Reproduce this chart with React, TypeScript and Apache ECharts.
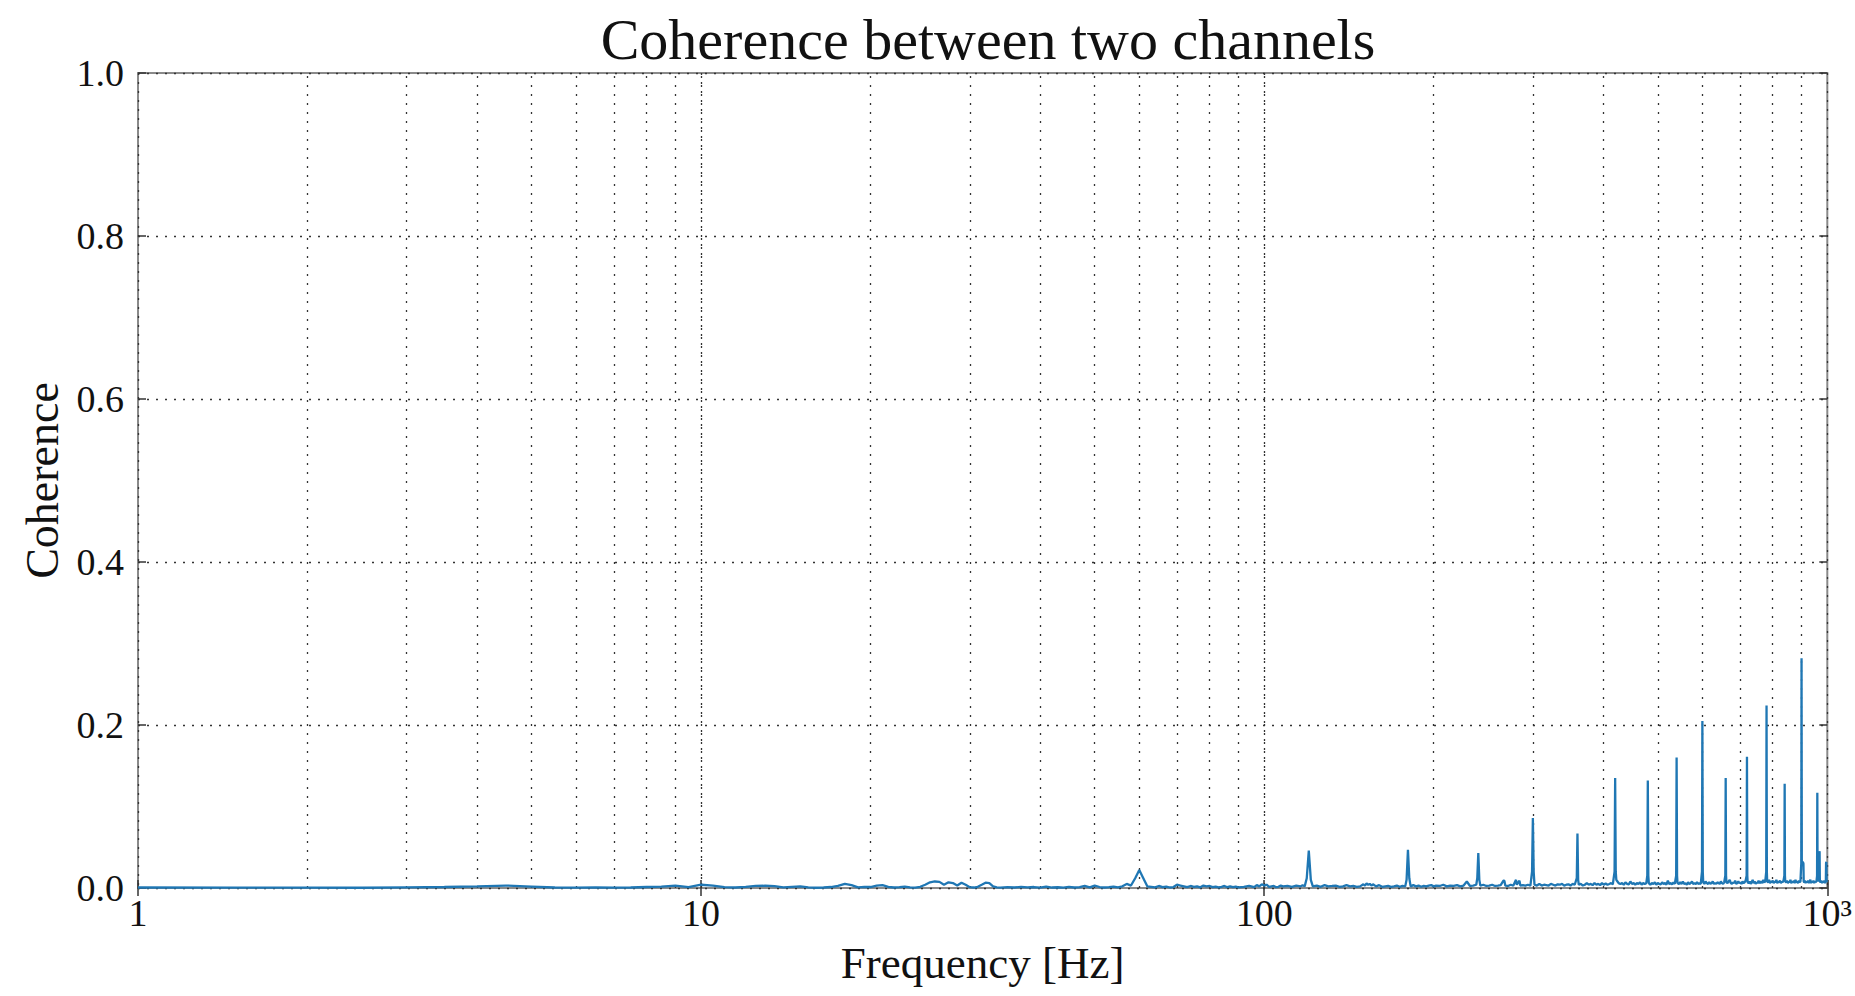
import React, { useEffect, useRef } from "react";
import * as echarts from "echarts";

// ---- data (frequency in Hz, coherence) ----
const lowBand: [number, number][] = [
  [1, 0.0006], [1.5, 0.0005], [2, 0.0004], [2.5, 0.0003], [3, 0.0008], [3.5, 0.0012],
  [4, 0.002], [4.5, 0.003], [5, 0.0018], [5.5, 0.0006], [6, 0.0004], [6.5, 0.0008],
  [7, 0.0005], [7.5, 0.0006], [8, 0.0012], [8.5, 0.0018], [9, 0.0028], [9.5, 0.0012],
  [10, 0.004], [10.5, 0.003], [11, 0.001], [11.5, 0.0006], [12, 0.0015], [12.5, 0.0025],
  [13, 0.0028], [13.5, 0.0022], [14, 0.0008], [14.5, 0.0015], [15, 0.002], [15.5, 0.0008],
  [16, 0.0003], [16.5, 0.0006], [17, 0.0012], [17.5, 0.0025], [18, 0.005], [18.5, 0.0035],
  [19, 0.0008], [19.5, 0.0015], [20, 0.0012], [20.5, 0.003], [21, 0.0035], [21.5, 0.0015],
  [22, 0.0006], [22.5, 0.0012], [23, 0.0018], [23.5, 0.0008], [24, 0.0004], [24.5, 0.0015],
  [25, 0.004], [25.5, 0.007], [26, 0.008], [26.5, 0.0075], [27, 0.004], [27.5, 0.007],
  [28, 0.006], [28.5, 0.003], [29, 0.0065], [29.5, 0.004], [30, 0.001], [30.5, 0.0006],
  [31, 0.0015], [31.5, 0.004], [32, 0.0065], [32.5, 0.006], [33, 0.002], [33.5, 0.0008],
  [34, 0.0004], [35, 0.001], [36, 0.0006], [37, 0.0015], [38, 0.0008], [39, 0.0012],
  [40, 0.0005], [41, 0.0018], [42, 0.0006], [43, 0.0009], [44, 0.0004], [45, 0.0015],
  [46, 0.0006], [47, 0.0012], [48, 0.0025], [49, 0.0008],
];

const midBand: [number, number][] = [
  [50, 0.003], [51, 0.0012], [52, 0.0006], [53, 0.001], [54, 0.0018], [55, 0.0008],
  [56, 0.002], [57, 0.005], [58, 0.003], [59, 0.012], [60, 0.022], [61, 0.012],
  [62, 0.002], [63, 0.0015], [64, 0.0008], [65, 0.0025], [66, 0.001], [67, 0.0018],
  [68, 0.0006], [69, 0.0012], [70, 0.004], [71, 0.003], [72, 0.002], [73, 0.001],
  [74, 0.0025], [75, 0.0015], [76, 0.002], [77, 0.0008], [78, 0.003], [79, 0.002],
  [80, 0.0025], [81, 0.001], [82, 0.0018], [83, 0.0009], [84, 0.0015], [85, 0.0025],
  [86, 0.001], [87, 0.002], [88, 0.0012], [89, 0.0018], [90, 0.0008], [92, 0.0015],
  [94, 0.0025], [96, 0.001], [97, 0.0035], [98, 0.002], [99, 0.0045], [100, 0.003],
  [101, 0.004], [102, 0.0015], [103, 0.002], [104, 0.0025], [105, 0.001], [106, 0.0015],
  [107, 0.003], [108, 0.002], [110, 0.0025], [112, 0.0015], [114, 0.003], [116, 0.002],
  [117, 0.0035], [118, 0.002], [119, 0.012], [120, 0.046], [121, 0.01], [122, 0.002],
  [124, 0.003], [126, 0.0015], [128, 0.0035], [130, 0.002], [132, 0.0025], [134, 0.003],
  [136, 0.0015], [138, 0.002], [140, 0.0035], [142, 0.002], [144, 0.0025], [146, 0.0015],
  [148, 0.002], [150, 0.0045], [151, 0.003], [152, 0.0055], [153, 0.004], [154, 0.005],
  [155, 0.003], [156, 0.0045], [158, 0.002], [160, 0.0035], [162, 0.0015], [164, 0.002],
  [166, 0.0025], [168, 0.0015], [170, 0.002], [172, 0.003], [174, 0.0015], [176, 0.0025],
  [178, 0.002], [179, 0.01], [180, 0.047], [181, 0.012], [182, 0.002], [184, 0.0035],
  [186, 0.002], [188, 0.003], [190, 0.0015], [192, 0.0025], [194, 0.002], [196, 0.003],
  [198, 0.0035],
];

const highBand: [number, number][] = [
  [200, 0.002], [202, 0.003], [205, 0.0025], [208, 0.004], [211, 0.002], [214, 0.003],
  [217, 0.0025], [220, 0.0035], [223, 0.002], [226, 0.003], [229, 0.008], [232, 0.0025],
  [235, 0.003], [238, 0.004], [239, 0.012], [240, 0.043], [241, 0.01], [242, 0.003],
  [245, 0.004], [248, 0.0025], [251, 0.003], [254, 0.004], [257, 0.0025], [260, 0.003],
  [263, 0.0035], [266, 0.009], [267, 0.009], [268, 0.003], [271, 0.0025], [274, 0.004],
  [277, 0.003], [280, 0.01], [281, 0.004], [284, 0.009], [285, 0.003], [288, 0.0035],
  [291, 0.003], [294, 0.004], [297, 0.003], [299, 0.02], [300, 0.086], [301, 0.02],
  [302, 0.004], [305, 0.003], [308, 0.005], [311, 0.003], [314, 0.004], [317, 0.0035],
  [320, 0.003], [323, 0.005], [326, 0.004], [329, 0.003], [332, 0.0045], [335, 0.004],
  [338, 0.005], [341, 0.003], [344, 0.004], [347, 0.0045], [350, 0.003], [353, 0.005],
  [356, 0.004], [359, 0.012], [360, 0.067], [361, 0.01], [362, 0.004], [365, 0.005],
  [368, 0.003], [371, 0.004], [374, 0.006], [377, 0.004], [380, 0.005], [383, 0.0035],
  [386, 0.006], [389, 0.004], [392, 0.005], [395, 0.0035], [398, 0.006], [401, 0.004],
  [404, 0.0055], [407, 0.004], [410, 0.005], [413, 0.006], [416, 0.0045], [419, 0.02],
  [420, 0.135], [421, 0.02], [422, 0.01], [424, 0.008], [426, 0.006], [429, 0.005],
  [432, 0.006], [435, 0.004], [438, 0.007], [441, 0.005], [444, 0.0045], [447, 0.008],
  [450, 0.005], [453, 0.006], [456, 0.004], [459, 0.006], [462, 0.005], [465, 0.007],
  [468, 0.004], [471, 0.006], [474, 0.005], [477, 0.006], [479, 0.015], [480, 0.132],
  [481, 0.015], [482, 0.006], [485, 0.004], [488, 0.006], [491, 0.005], [494, 0.007],
  [497, 0.004], [500, 0.006], [503, 0.005], [506, 0.0045], [509, 0.007], [512, 0.005],
  [515, 0.006], [518, 0.004], [521, 0.009], [524, 0.005], [527, 0.006], [530, 0.0045],
  [533, 0.007], [536, 0.005], [539, 0.015], [540, 0.16], [541, 0.015], [542, 0.006],
  [545, 0.005], [548, 0.007], [551, 0.005], [554, 0.008], [557, 0.005], [560, 0.006],
  [563, 0.004], [566, 0.007], [569, 0.005], [572, 0.006], [575, 0.008], [578, 0.005],
  [581, 0.006], [584, 0.005], [587, 0.007], [590, 0.005], [593, 0.006], [596, 0.005],
  [599, 0.02], [600, 0.205], [601, 0.02], [602, 0.007], [605, 0.005], [608, 0.008],
  [611, 0.006], [614, 0.005], [617, 0.007], [620, 0.005], [623, 0.006], [626, 0.008],
  [629, 0.005], [632, 0.006], [635, 0.005], [638, 0.007], [641, 0.006], [644, 0.005],
  [647, 0.008], [650, 0.006], [653, 0.005], [656, 0.007], [659, 0.015], [660, 0.135],
  [661, 0.015], [662, 0.007], [665, 0.006], [668, 0.008], [671, 0.01], [674, 0.006],
  [677, 0.005], [680, 0.007], [683, 0.006], [686, 0.009], [689, 0.005], [692, 0.006],
  [695, 0.008], [698, 0.006], [701, 0.007], [704, 0.005], [707, 0.008], [710, 0.006],
  [713, 0.007], [716, 0.009], [719, 0.015], [720, 0.161], [721, 0.015], [722, 0.007],
  [725, 0.006], [728, 0.008], [731, 0.005], [734, 0.007], [737, 0.01], [740, 0.006],
  [743, 0.008], [746, 0.005], [749, 0.007], [752, 0.006], [755, 0.009], [758, 0.006],
  [761, 0.007], [764, 0.008], [767, 0.006], [770, 0.01], [773, 0.007], [776, 0.008],
  [779, 0.02], [780, 0.224], [781, 0.02], [782, 0.008], [785, 0.007], [788, 0.01],
  [791, 0.006], [794, 0.008], [797, 0.007], [800, 0.009], [803, 0.006], [806, 0.008],
  [809, 0.007], [812, 0.01], [815, 0.006], [818, 0.008], [821, 0.007], [824, 0.009],
  [827, 0.006], [830, 0.008], [833, 0.007], [836, 0.009], [839, 0.015], [840, 0.128],
  [841, 0.015], [842, 0.008], [845, 0.007], [848, 0.009], [851, 0.006], [854, 0.008],
  [857, 0.007], [860, 0.01], [863, 0.006], [866, 0.008], [869, 0.007], [872, 0.009],
  [875, 0.006], [878, 0.01], [881, 0.007], [884, 0.008], [887, 0.006], [890, 0.009],
  [893, 0.007], [896, 0.008], [899, 0.03], [900, 0.282], [901, 0.033], [906, 0.031],
  [907, 0.03], [908, 0.008], [910, 0.007], [912, 0.009], [915, 0.006], [918, 0.008],
  [921, 0.007], [924, 0.009], [927, 0.006], [930, 0.008], [933, 0.01], [936, 0.006],
  [939, 0.008], [942, 0.007], [945, 0.009], [948, 0.006], [951, 0.008], [954, 0.007],
  [957, 0.009], [959, 0.015], [960, 0.117], [961, 0.015], [964, 0.008], [968, 0.045],
  [969, 0.044], [970, 0.008], [973, 0.007], [976, 0.009], [979, 0.006], [982, 0.008],
  [985, 0.007], [988, 0.009], [991, 0.006], [994, 0.008], [995, 0.031], [996, 0.032],
  [997, 0.008], [1000, 0.009],
];

const majorX = [10, 100];
const minorX = [2, 3, 4, 5, 6, 7, 8, 9, 20, 30, 40, 50, 60, 70, 80, 90, 200, 300, 400, 500, 600, 700, 800, 900];
const xTickLabels: Record<number, string> = { 1: "1", 10: "10", 100: "100", 1000: "10³" };

const FONT = "'Liberation Serif', 'Times New Roman', serif";
const GRID_STYLE = { color: "#333", width: 1.3, type: [2, 7] as number[] };

export default function App() {
  const ref = useRef<HTMLDivElement>(null);

  useEffect(() => {
    if (!ref.current) return;
    const chart = echarts.init(ref.current, null, { renderer: "svg" });
    const data = [...lowBand, ...midBand, ...highBand];
    const left = 138;
    const top = 73;
    const w = 1690;
    const h = 815;

    chart.setOption({
      animation: false,
      backgroundColor: "#ffffff",
      textStyle: { fontFamily: FONT },
      title: {
        text: "Coherence between two channels",
        left: left + w / 2,
        top: 5,
        textAlign: "center",
        textStyle: { fontFamily: FONT, fontSize: 58, fontWeight: "normal", color: "#111" },
      },
      grid: {
        left,
        top,
        width: w,
        height: h,
        show: true,
        borderColor: "#8a8a8a",
        borderWidth: 2,
        containLabel: false,
      },
      xAxis: [
        {
          type: "log",
          logBase: 10,
          min: 1,
          max: 1000,
          name: "Frequency [Hz]",
          nameLocation: "middle",
          nameGap: 52,
          nameTextStyle: { fontFamily: FONT, fontSize: 45, color: "#111" },
          axisLine: { show: false },
          axisTick: { show: true, inside: true, length: 8, lineStyle: { color: "#333", width: 1.5 } },
          axisLabel: {
            fontFamily: FONT,
            fontSize: 38,
            color: "#111",
            margin: 6,
            showMinLabel: true,
            showMaxLabel: true,
            formatter: (v: number) => xTickLabels[Math.round(v)] ?? "",
          },
          splitLine: { show: true, lineStyle: GRID_STYLE },
        },
        {
          type: "log",
          logBase: 10,
          min: 1,
          max: 1000,
          position: "top",
          axisLine: { show: false },
          axisTick: { show: true, inside: true, length: 8, lineStyle: { color: "#333", width: 1.5 } },
          axisLabel: { show: false },
          splitLine: { show: false },
        },
      ],
      yAxis: [
        {
          type: "value",
          min: 0,
          max: 1,
          interval: 0.2,
          name: "Coherence",
          nameLocation: "middle",
          nameGap: 60,
          nameTextStyle: { fontFamily: FONT, fontSize: 46, color: "#111" },
          axisLine: { show: false },
          axisTick: { show: true, inside: true, length: 8, lineStyle: { color: "#333", width: 1.5 } },
          axisLabel: {
            fontFamily: FONT,
            fontSize: 38,
            color: "#111",
            margin: 14,
            formatter: (v: number) => v.toFixed(1),
          },
          splitLine: { show: true, lineStyle: GRID_STYLE },
        },
        {
          type: "value",
          min: 0,
          max: 1,
          interval: 0.2,
          position: "right",
          axisLine: { show: false },
          axisTick: { show: true, inside: true, length: 8, lineStyle: { color: "#333", width: 1.5 } },
          axisLabel: { show: false },
          splitLine: { show: false },
        },
      ],
      series: [
        {
          type: "line",
          data,
          showSymbol: false,
          symbol: "none",
          lineStyle: { color: "#1f77b4", width: 2.3 },
          z: 3,
          markLine: {
            silent: true,
            symbol: "none",
            label: { show: false },
            lineStyle: GRID_STYLE,
            emphasis: { disabled: true },
            z: 1,
            data: [...minorX, ...majorX].map((v) => ({ xAxis: v })),
          },
        },
      ],
    });

    return () => chart.dispose();
  }, []);

  return (
    <div
      ref={ref}
      style={{ position: "fixed", left: 0, top: 0, width: 1855, height: 996, background: "#fff" }}
    />
  );
}
